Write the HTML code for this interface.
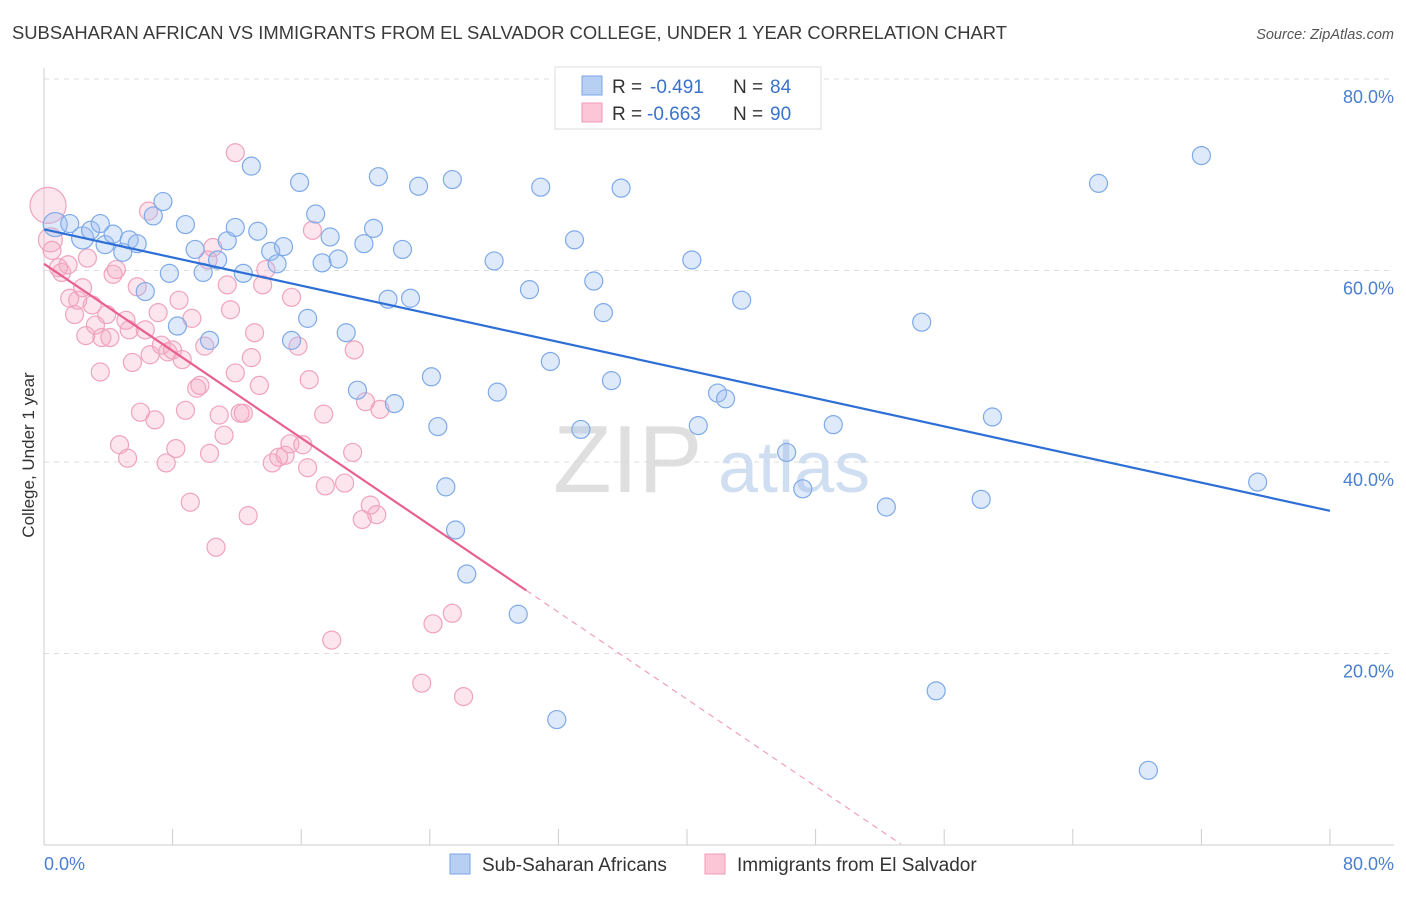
<!DOCTYPE html>
<html><head><meta charset="utf-8"><style>
body{margin:0;background:#fff;font-family:"Liberation Sans",sans-serif;}
svg text{font-family:"Liberation Sans",sans-serif;}
</style></head><body>
<svg id="chart" width="1406" height="892" xmlns="http://www.w3.org/2000/svg">
<text x="12" y="39" font-size="18.4" fill="#3a3a3a">SUBSAHARAN AFRICAN VS IMMIGRANTS FROM EL SALVADOR COLLEGE, UNDER 1 YEAR CORRELATION CHART</text>
<text x="1394" y="39" font-size="14.5" fill="#555" text-anchor="end" font-style="italic">Source: ZipAtlas.com</text>
<g id="grid"></g>
<g>
<text x="553" y="492" font-size="96" fill="#d8d8d8" font-family="Liberation Serif" opacity="0.8">ZIP</text>
<text x="718" y="492" font-size="72" fill="#c5d7f0" opacity="0.8">atlas</text>
</g>
<g id="pts"></g>
<g id="lines"></g>
<text transform="translate(34,455) rotate(-90)" font-size="17" fill="#333" text-anchor="middle">College, Under 1 year</text>
<text x="44" y="870" font-size="18" fill="#4a7fd0">0.0%</text>
<text x="1394" y="870" font-size="18" fill="#4a7fd0" text-anchor="end">80.0%</text>
<g>
<rect x="555" y="67" width="266" height="62" fill="#fff" stroke="#ddd"/>
<rect x="582" y="76" width="20" height="19" fill="#b7cff3" stroke="#7aa6e6"/>
<rect x="582" y="103" width="20" height="19" fill="#fcc6d6" stroke="#f09ab5"/>
<text x="612" y="93" font-size="19" fill="#333">R = </text><text x="650" y="93" font-size="19" fill="#3a72cc">-0.491</text>
<text x="733" y="93" font-size="19" fill="#333">N = </text><text x="770" y="93" font-size="19" fill="#3a72cc">84</text>
<text x="612" y="120" font-size="19" fill="#333">R = </text><text x="647" y="120" font-size="19" fill="#3a72cc">-0.663</text>
<text x="733" y="120" font-size="19" fill="#333">N = </text><text x="770" y="120" font-size="19" fill="#3a72cc">90</text>
</g>
<g>
<rect x="450" y="854" width="20" height="20" fill="#b7cff3" stroke="#7aa6e6"/>
<text x="482" y="871" font-size="19" fill="#333">Sub-Saharan Africans</text></g>
<g>
<rect x="705" y="854" width="20" height="20" fill="#fcc6d6" stroke="#f09ab5"/>
<text x="737" y="871" font-size="19" fill="#333">Immigrants from El Salvador</text></g>
</svg>
<script>
const blueX=[0.7,1.6,2.4,2.9,3.5,3.8,4.3,4.9,5.3,5.8,6.3,6.8,7.4,7.8,8.3,8.8,9.4,9.9,10.3,10.8,11.4,11.9,12.4,12.9,13.3,14.1,14.5,14.9,15.4,15.9,16.4,16.9,17.3,17.8,18.3,18.8,19.5,19.9,20.5,20.8,21.4,21.8,22.3,22.8,23.3,24.1,24.5,25.0,25.4,25.6,26.3,28.0,28.2,29.5,30.2,30.9,31.5,31.9,33.0,33.4,34.2,34.8,35.3,35.9,40.3,40.7,41.9,42.4,43.4,46.2,47.2,49.1,52.4,54.6,55.5,58.3,59.0,65.6,68.7,72.0,75.5,33.7];
const blueY=[64.8,64.9,63.4,64.2,64.9,62.7,63.8,61.9,63.2,62.8,57.8,65.7,67.2,59.7,54.2,64.8,62.2,59.8,52.7,61.1,63.1,64.5,59.7,70.9,64.1,62.0,60.7,62.5,52.7,69.2,55.0,65.9,60.8,63.5,61.2,53.5,47.5,62.8,64.4,69.8,57.0,46.1,62.2,57.1,68.8,48.9,43.7,37.4,69.5,32.9,28.3,61.0,47.3,24.1,58.0,68.7,50.5,13.1,63.2,43.4,58.9,55.6,48.5,68.6,61.1,43.8,47.2,46.6,56.9,41.0,37.2,43.9,35.3,54.6,16.1,36.1,44.7,69.1,7.8,72.0,37.9,79.9];
const pinkX=[0.25,0.4,0.5,0.9,1.1,1.5,1.6,1.9,2.1,2.4,2.7,2.6,3.0,3.2,3.5,3.6,3.9,4.1,4.3,4.5,4.7,5.2,5.1,5.3,5.5,5.8,6.0,6.3,6.6,6.5,6.9,7.1,7.3,7.6,7.7,8.0,8.2,8.4,8.6,8.8,9.1,9.2,9.5,9.7,10.0,10.2,10.3,10.5,10.7,10.9,11.2,11.4,11.6,11.9,11.9,12.2,12.4,12.7,12.9,13.1,13.4,13.6,13.8,14.2,14.6,15.0,15.3,15.4,15.8,16.1,16.4,16.5,16.7,17.4,17.5,17.9,18.7,19.2,19.3,19.8,20.0,20.3,20.7,20.9,23.5,24.2,25.4,26.1];
const pinkY=[66.8,63.2,62.1,60.3,59.8,60.6,57.1,55.4,56.9,58.2,61.3,53.2,56.4,54.3,49.4,53.0,55.4,53.0,59.6,60.1,41.8,40.4,54.8,53.8,50.4,58.3,45.2,53.8,51.2,66.2,44.4,55.6,52.2,39.9,51.5,51.7,41.4,56.9,50.7,45.4,35.8,55.0,47.7,48.0,52.1,61.1,40.9,62.4,31.1,44.9,42.8,58.5,55.9,49.3,72.3,45.1,45.1,34.4,50.9,53.5,48.0,58.5,60.1,39.9,40.5,40.7,41.9,57.2,52.1,41.8,39.4,48.6,64.2,45.0,37.5,21.4,37.8,41.0,51.7,34.0,46.3,35.5,34.5,45.5,16.9,23.1,24.2,15.5];
const blueFit=[64.3,-0.3675];   // intercept, slope
const pinkFit=[60.7,-1.137];
const pinkSolidEnd=30.0, pinkDashEnd=53.3;
const yTicks=[20,40,60,80];
const xTicks=[0,8,16,24,32,40,48,56,64,72,80];
const NS='http://www.w3.org/2000/svg';
const X=v=>44+v*16.075, Y=v=>845-v*9.575;
function mk(t,a,p){const e=document.createElementNS(NS,t);for(const k in a)e.setAttribute(k,a[k]);p.appendChild(e);return e;}
const grid=document.getElementById('grid');
yTicks.forEach(t=>{
  const l=mk('line',{x1:44,x2:1394,y1:Y(t),y2:Y(t),stroke:'#ddd','stroke-dasharray':'5,5'},grid);
  
  
  const tx=mk('text',{x:1394,y:Y(t)+24,'font-size':18,fill:'#4a7fd0','text-anchor':'end'},grid);
  tx.textContent=t.toFixed(1)+'%';
  
  
});
const ax=mk('line',{x1:44,x2:1394,y1:845,y2:845,stroke:'#ccc'},grid);


const ay=mk('line',{x1:44,x2:44,y1:68,y2:845,stroke:'#ccc'},grid);


xTicks.forEach(t=>{
  const l=mk('line',{x1:X(t),x2:X(t),y1:829,y2:845,stroke:'#ccc'},grid);
  
  
});
const pts=document.getElementById('pts');
pinkX.forEach((v,i)=>{
  const r=i==0?18:(i==1?12:9);
  const c=mk('circle',{cx:X(v),cy:Y(pinkY[i]),r:r,fill:'rgba(246,168,194,0.3)',stroke:'#f0a3bd','stroke-width':1.2},pts);
  
  
});
blueX.forEach((v,i)=>{
  const r=i==0?12:(i==2?11:9);
  const c=mk('circle',{cx:X(v),cy:Y(blueY[i]),r:r,fill:'rgba(160,192,240,0.35)',stroke:'#7eaae8','stroke-width':1.2},pts);
  
  
});
const lines=document.getElementById('lines');
const bl=mk('line',{x1:X(0),y1:Y(blueFit[0]),x2:X(80),y2:Y(blueFit[0]+80*blueFit[1]),stroke:'#2d6fd6','stroke-width':2.2},lines);


const pl=mk('line',{x1:X(0),y1:Y(pinkFit[0]),x2:X(pinkSolidEnd),y2:Y(pinkFit[0]+pinkSolidEnd*pinkFit[1]),stroke:'#e8608e','stroke-width':2.2},lines);


const pd=mk('line',{x1:X(pinkSolidEnd),y1:Y(pinkFit[0]+pinkSolidEnd*pinkFit[1]),x2:X(pinkDashEnd),y2:Y(pinkFit[0]+pinkDashEnd*pinkFit[1]),stroke:'#f0a0b8','stroke-width':1.2,'stroke-dasharray':'6,5'},lines);


</script>
</body></html>
